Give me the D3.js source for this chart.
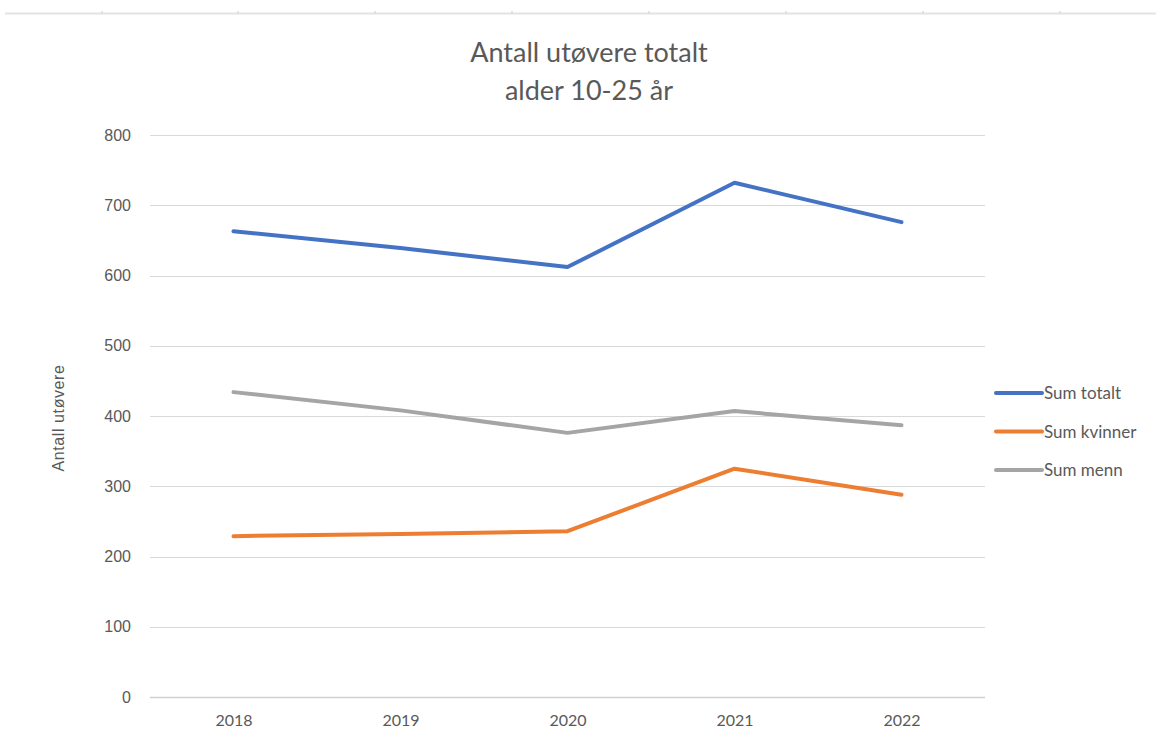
<!DOCTYPE html>
<html>
<head>
<meta charset="utf-8">
<script src="https://cdn.jsdelivr.net/npm/d3@7"></script>
<style>
  body { margin: 0; background: #fff; }
  text { fill: #595959; }
</style>
</head>
<body>
<div id="chart"></div>
<script>
var years = ["2018", "2019", "2020", "2021", "2022"];
var sumTotalt = [663, 639, 612, 732, 676];
var sumKvinner = [229, 232, 236, 325, 288];
var sumMenn = [434, 408, 376, 407, 387];
var yTicks = [0, 100, 200, 300, 400, 500, 600, 700, 800];
var seriesNames = ["Sum totalt", "Sum kvinner", "Sum menn"];
var seriesColors = ["#4472C4", "#ED7D31", "#A5A5A5"];

var svg_Width = 1156;
var svg_Height = 746;
var margin = { top: 135, right: 171, bottom: 49, left: 150 };
var chart_Width = svg_Width - margin.left - margin.right;
var chart_Height = svg_Height - margin.top - margin.bottom;

var svg = d3.select('#chart')
  .append('svg')
  .attr('width', svg_Width)
  .attr('height', svg_Height);

// faint spreadsheet ruler at the top
var ruler = svg.append('g');
ruler.append('line')
  .attr('x1', 5).attr('x2', svg_Width)
  .attr('y1', 13.5).attr('y2', 13.5)
  .attr('stroke', '#e3e3e3').attr('stroke-width', 2);
[102, 238, 375, 512, 649, 786, 923, 1060].forEach(function(x) {
  ruler.append('line')
    .attr('x1', x).attr('x2', x)
    .attr('y1', 11).attr('y2', 14)
    .attr('stroke', '#cfcfcf').attr('stroke-width', 1);
});

var chartGroup = svg.append('g')
  .attr('transform', 'translate(' + margin.left + ',' + margin.top + ')');

var xScale = d3.scalePoint().domain(years).range([0, chart_Width]).padding(0.5);
var yScale = d3.scaleLinear().domain([0, 800]).range([chart_Height, 0]);

// gridlines
chartGroup.append('g')
  .selectAll('line')
  .data(yTicks)
  .enter()
  .append('line')
  .attr('x1', 0).attr('x2', chart_Width)
  .attr('y1', function(d) { return Math.round(yScale(d)) + 0.5; })
  .attr('y2', function(d) { return Math.round(yScale(d)) + 0.5; })
  .attr('stroke', function(d) { return d === 0 ? '#d0d0d0' : '#d9d9d9'; })
  .attr('stroke-width', function(d) { return d === 0 ? 1.5 : 1; });

// y labels
var leftAxis = d3.axisLeft(yScale).tickValues(yTicks).tickSize(0).tickPadding(19);
var yAxisG = chartGroup.append('g').call(leftAxis);
yAxisG.select('.domain').remove();
yAxisG.selectAll('text')
  .attr('font-family', 'Liberation Sans, Arial, sans-serif')
  .attr('font-size', '16px')
  .style('fill', '#595959');

// x labels
var bottomAxis = d3.axisBottom(xScale).tickSize(0).tickPadding(18);
var xAxisG = chartGroup.append('g')
  .attr('transform', 'translate(0,' + chart_Height + ')')
  .call(bottomAxis);
xAxisG.select('.domain').remove();
xAxisG.selectAll('text')
  .attr('font-family', 'Lato, Open Sans, sans-serif')
  .attr('font-size', '16px')
  .style('fill', '#595959');

// lines
var allSeries = [sumTotalt, sumKvinner, sumMenn];
var line = d3.line()
  .x(function(d, i) { return xScale(years[i]); })
  .y(function(d) { return yScale(d); });

chartGroup.selectAll('.series')
  .data(allSeries)
  .enter()
  .append('path')
  .attr('class', 'series')
  .attr('d', line)
  .attr('fill', 'none')
  .attr('stroke', function(d, i) { return seriesColors[i]; })
  .attr('stroke-width', 4)
  .attr('stroke-linejoin', 'round')
  .attr('stroke-linecap', 'round');

// title
svg.append('text')
  .attr('x', 589).attr('y', 62)
  .attr('text-anchor', 'middle')
  .attr('font-family', 'Lato, Open Sans, sans-serif')
  .attr('font-size', '27px')
  .text('Antall utøvere totalt');
svg.append('text')
  .attr('x', 589).attr('y', 100)
  .attr('text-anchor', 'middle')
  .attr('font-family', 'Lato, Open Sans, sans-serif')
  .attr('font-size', '27px')
  .text('alder 10-25 år');

// y axis title
svg.append('text')
  .attr('transform', 'translate(64,' + 418 + ') rotate(-90)')
  .attr('text-anchor', 'middle')
  .attr('font-family', 'Liberation Sans, Arial, sans-serif')
  .attr('font-size', '16px')
  .attr('letter-spacing', '0.6px')
  .text('Antall utøvere');

// legend
var legend = svg.append('g')
  .selectAll('g')
  .data(seriesNames)
  .enter()
  .append('g')
  .attr('transform', function(d, i) { return 'translate(996,' + (393 + i * 38.5) + ')'; });
legend.append('line')
  .attr('x1', 0).attr('x2', 46)
  .attr('y1', 0).attr('y2', 0)
  .attr('stroke', function(d, i) { return seriesColors[i]; })
  .attr('stroke-width', 4)
  .attr('stroke-linecap', 'round');
legend.append('text')
  .attr('x', 48).attr('y', 6)
  .attr('font-family', 'Lato, Open Sans, sans-serif')
  .attr('font-size', '17px')
  .text(function(d) { return d; });
</script>
</body>
</html>
